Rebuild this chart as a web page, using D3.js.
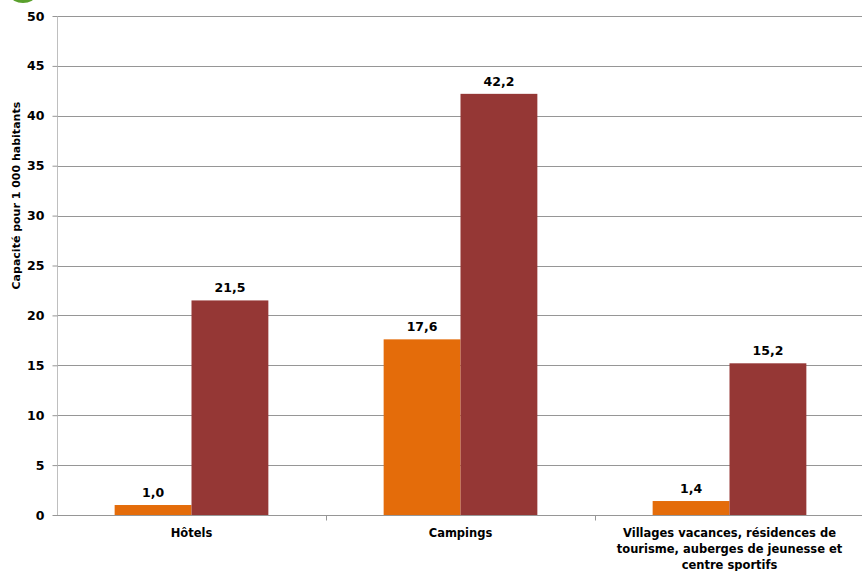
<html>
  <head>
    <meta charset="utf-8">
    <script src="https://d3js.org/d3.v7.min.js"></script>
    <style>
      body {
        margin: 0;
        font-family: Tahoma, Verdana, "DejaVu Sans", sans-serif;
        background: #fff;
      }
      text {
        font-weight: bold;
        fill: #000;
      }
    </style>
  </head>
  <body>
    <div id="chart"></div>
  </body>
  <script>
    // data
    const categories = ["Hôtels", "Campings", "Villages vacances, résidences de|tourisme, auberges de jeunesse et|centre sportifs"]
    const seriesA = [1.0, 17.6, 1.4]
    const seriesB = [21.5, 42.2, 15.2]
    const yTicks = [0, 5, 10, 15, 20, 25, 30, 35, 40, 45, 50]
    const colors = ["#e46c0a", "#953735"]

    const W = 862, H = 571
    const margin = {top: 16, right: -2, bottom: 56, left: 57}
    const width = W - margin.left - margin.right,
      height = H - margin.top - margin.bottom

    const svg = d3.select("#chart")
      .append("svg")
        .attr("width", W)
        .attr("height", H)

    // little green blob in the corner
    svg.append("ellipse")
      .attr("cx", 23).attr("cy", -4)
      .attr("rx", 12).attr("ry", 7)
      .style("fill", "#5aa02c")

    const g = svg.append("g")
      .attr("transform", `translate(${margin.left}, ${margin.top})`)

    const x = d3.scaleBand()
      .domain(categories)
      .range([0, width])

    const xInner = d3.scaleBand()
      .domain([0, 1])
      .range([0, x.bandwidth()])
      .paddingOuter(0.75)

    const y = d3.scaleLinear()
      .domain([0, 50])
      .range([height, 0])

    // grid lines
    g.selectAll("line.grid")
      .data(yTicks.filter(d => d > 0))
      .join("line")
        .attr("class", "grid")
        .attr("x1", 0)
        .attr("x2", width)
        .attr("y1", d => Math.round(y(d)) + 0.5)
        .attr("y2", d => Math.round(y(d)) + 0.5)
        .style("stroke", "#969696")

    // y axis
    const yAxis = g.append("g")
      .attr("transform", "translate(0.5,0)")
      .call(d3.axisLeft(y).tickValues(yTicks).tickSize(5).tickPadding(8))
    yAxis.select(".domain").style("stroke", "#bfbfbf").attr("d", `M0,${height}V0`)
    yAxis.selectAll(".tick line").style("stroke", "#969696")
    yAxis.selectAll(".tick text")
      .style("font-size", "12.5px")
      .style("font-family", "Tahoma, Verdana, 'DejaVu Sans', sans-serif")
      .style("font-weight", "bold")

    // x axis
    const xAxis = g.append("g")
      .attr("transform", `translate(0, ${Math.round(height) + 0.5})`)
    xAxis.append("line")
      .attr("x1", 0).attr("x2", width)
      .style("stroke", "#969696")
    xAxis.selectAll("line.tk")
      .data(categories.slice(1))
      .join("line")
        .attr("class", "tk")
        .attr("x1", d => Math.round(x(d)) + 0.5)
        .attr("x2", d => Math.round(x(d)) + 0.5)
        .attr("y1", 0).attr("y2", 5)
        .style("stroke", "#969696")

    xAxis.selectAll("text.cat")
      .data(categories)
      .join("text")
        .attr("class", "cat")
        .attr("text-anchor", "middle")
        .attr("x", d => x(d) + x.bandwidth() / 2)
        .attr("y", 0)
        .style("font-size", "11.5px")
        .each(function(d) {
          const lines = d.split("|")
          d3.select(this).selectAll("tspan")
            .data(lines)
            .join("tspan")
              .attr("x", x(d) + x.bandwidth() / 2)
              .attr("y", (l, i) => 21 + i * 16)
              .text(l => l)
        })

    // bars
    const groups = categories.map((c, i) => ({cat: c, vals: [seriesA[i], seriesB[i]]}))

    const cg = g.selectAll("g.cat")
      .data(groups)
      .join("g")
        .attr("class", "cat")
        .attr("transform", d => `translate(${x(d.cat)},0)`)

    cg.selectAll("rect")
      .data(d => d.vals.map((v, k) => ({k: k, v: v})))
      .join("rect")
        .attr("x", d => xInner(d.k))
        .attr("width", xInner.bandwidth())
        .attr("y", d => y(d.v))
        .attr("height", d => y(0) - y(d.v))
        .style("fill", d => colors[d.k])

    cg.selectAll("text.val")
      .data(d => d.vals.map((v, k) => ({k: k, v: v})))
      .join("text")
        .attr("class", "val")
        .attr("text-anchor", "middle")
        .attr("x", d => xInner(d.k) + xInner.bandwidth() / 2)
        .attr("y", d => y(d.v) - 8)
        .style("font-size", "12.5px")
        .text(d => d.v.toFixed(1).replace(".", ","))

    // y axis title
    svg.append("text")
      .attr("transform", `translate(20, ${margin.top + height * 0.36}) rotate(-90)`)
      .attr("text-anchor", "middle")
      .style("font-size", "11px")
      .text("Capacité pour 1 000 habitants")
  </script>
</html>
